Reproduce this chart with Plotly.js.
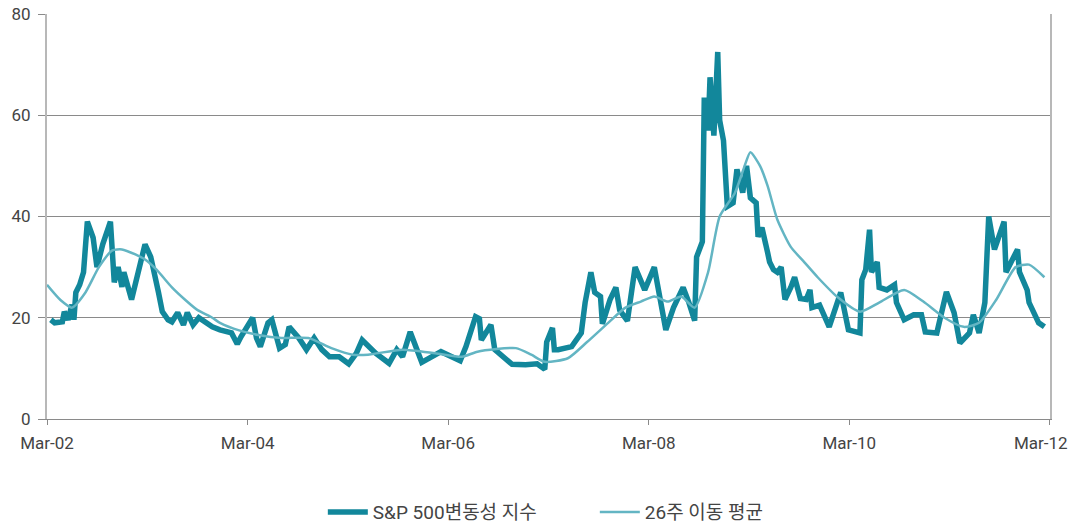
<!DOCTYPE html>
<html>
<head>
<meta charset="utf-8">
<script src="https://cdn.plot.ly/plotly-3.0.1.min.js"></script>
<style>
  html, body { margin: 0; padding: 0; background: #ffffff; }
  #chart { width: 1072px; height: 523px; }
</style>
</head>
<body>
<div id="chart"></div>
<script>
// Week index (weeks since 1 Mar 2002) and weekly values
const vixWeeks = [2,4,8,9,11,13,14,15,17,19,21,24,26,29,33,34,35,37,39,40,42,44,51,54,58,60,63,65,68,71,73,76,79,83,86,90,96,99,101,107,109,111,115,117,121,124,126,131,135,139,143,147,152,157,161,164,167,171,178,182,185,189,195,202,205,215,218,223,225,226,231,233,242,249,255,259,260,263,264,266,270,273,278,280,283,285,288,289,293,296,298,302,306,311,316,319,322,326,331,334,337,338,341,342,344,345,347,349,350,352,354,357,359,362,364,366,369,370,372,375,376,378,380,382,384,387,389,392,395,397,398,402,407,413,415,417,423,424,426,428,429,432,433,437,441,442,446,451,455,457,463,468,472,475,480,482,485,488,490,493,498,499,505,506,510,511,516,519];
const vixValues = [19.6,19,19.2,21.2,19.6,22.6,19.6,25,26.5,29,39,35.8,30,34.5,39,33.8,27,30,26.1,29,26,23.6,34.5,32,25,21.2,19.6,19.2,21,18.6,21,18.6,20,19,18.2,17.6,17,14.8,16.3,20,16,14.3,19,19.6,14,14.7,18.2,16,13.7,16,13.7,12.3,12.3,10.9,13,15.6,14.5,13,11,13.7,12.3,17.2,11.2,12.7,13.3,11.5,14.3,20.2,19.8,15.6,18.6,13.7,10.8,10.7,10.9,9.8,15.2,18,13.7,13.7,14,14.3,17,23,29,25,24.2,18.8,23.6,26,21.5,19.4,30,25.5,30,24,17.6,22,26,23,19.4,32,35,63.5,57,67.5,56,72.5,59,55,42,42.7,49.3,44.7,50,43.7,42.7,36,37.8,32.8,31,29.5,29,30,23.6,26,28,23.8,23.6,25.5,22,22.5,18.2,25,21.6,17.6,17,27.5,29.5,37.4,29,31,26,25.5,26.5,23,19.6,20.6,20.6,17.2,17,25.1,21,15,17,20.6,17,23,40,33.5,39,29,33.5,29,25.5,23,19,18.2];

// 26-week moving average
const maWeeks = [0,7,13,20,27,34,39,46,51,57,65,72,78,86,90,100,110,122,136,148,159,167,185,202,216,224,244,252,259,271,281,292,301,309,316,323,330,337,344,350,358,363,366,371,375,380,387,394,401,411,423,433,446,456,467,477,485,494,504,511,519];
const maValues = [26.5,23.5,22,25,30,33.3,33.5,32.5,31.5,29.5,26,23.5,21.6,20,19,17.5,16.6,16,16,14,12.7,12.7,13.7,13,12.3,13.3,14,12.7,11.3,12,15.2,19,22,23.2,24.2,23.2,24.2,22,29,40,44.7,50,52.7,50,46,39.4,34,31,28,24.2,21.2,23,25.5,23.2,20,18.2,19,23.6,30,30.5,28];

const seriesNames = ['S&P 500변동성 지수', '26주 이동 평균'];
const tickLabels = ['Mar-02','Mar-04','Mar-06','Mar-08','Mar-10','Mar-12'];
const tickDates = ['2002-03-01','2004-03-01','2006-03-01','2008-03-01','2010-03-01','2012-03-01'];

function weekToDate(w) {
  const d = new Date(Date.UTC(2002, 2, 1) + w * 7 * 86400000);
  return d.toISOString().slice(0, 10);
}

const fontFam = 'Roboto, "Noto Sans CJK KR", sans-serif';
const lastIdx = tickLabels.length - 1;

const traces = [
  {
    x: vixWeeks.map(weekToDate), y: vixValues, name: seriesNames[0],
    type: 'scatter', mode: 'lines',
    line: { color: '#12879B', width: 5.5 }
  },
  {
    x: maWeeks.map(weekToDate), y: maValues, name: seriesNames[1],
    type: 'scatter', mode: 'lines', line: { color: '#63B5C3', width: 2.5, shape: 'spline', smoothing: 0.6 }
  }
];

const layout = {
  width: 1072, height: 523,
  margin: { l: 47, r: 22, t: 14, b: 104, autoexpand: false },
  paper_bgcolor: '#ffffff', plot_bgcolor: '#ffffff',
  font: { family: fontFam, size: 17, color: '#444444' },
  showlegend: true,
  legend: {
    orientation: 'h', x: 0.275, xanchor: 'left', y: -0.23, yanchor: 'middle',
    font: { family: fontFam, size: 19, color: '#444444' },
    entrywidth: 217, entrywidthmode: 'pixels',
    itemwidth: 40, traceorder: 'normal'
  },
  xaxis: {
    type: 'date', range: ['2002-03-01', '2012-03-01 06:00'],
    tickvals: tickDates,
    ticktext: tickLabels.map((t, i) => i === lastIdx ? '' : t),
    showgrid: false, zeroline: false,
    showline: true, linecolor: '#8a8a8a', linewidth: 1,
    ticks: 'outside', ticklen: 5, tickcolor: '#8a8a8a',
    ticklabelstandoff: 4,
    tickfont: { family: fontFam, size: 17, color: '#444444' }
  },
  yaxis: {
    range: [0, 80], tickvals: [0, 20, 40, 60, 80], ticktext: ['0','20','40','60','80'],
    showgrid: true, gridcolor: '#8a8a8a', gridwidth: 1,
    zeroline: false,
    showline: true, linecolor: '#b8b8b8', linewidth: 2, mirror: true,
    ticks: 'outside', ticklen: 7, tickcolor: '#8a8a8a',
    ticklabelstandoff: 4,
    tickfont: { family: fontFam, size: 17, color: '#444444' }
  },
  annotations: [{
    x: tickDates[lastIdx], xref: 'x', xanchor: 'right', xshift: 20,
    y: 0, yref: 'paper', yanchor: 'middle', yshift: -24,
    text: tickLabels[lastIdx], showarrow: false,
    font: { family: fontFam, size: 17, color: '#444444' }
  }]
};

Plotly.newPlot('chart', traces, layout, { displayModeBar: false, staticPlot: true });
</script>
</body>
</html>
